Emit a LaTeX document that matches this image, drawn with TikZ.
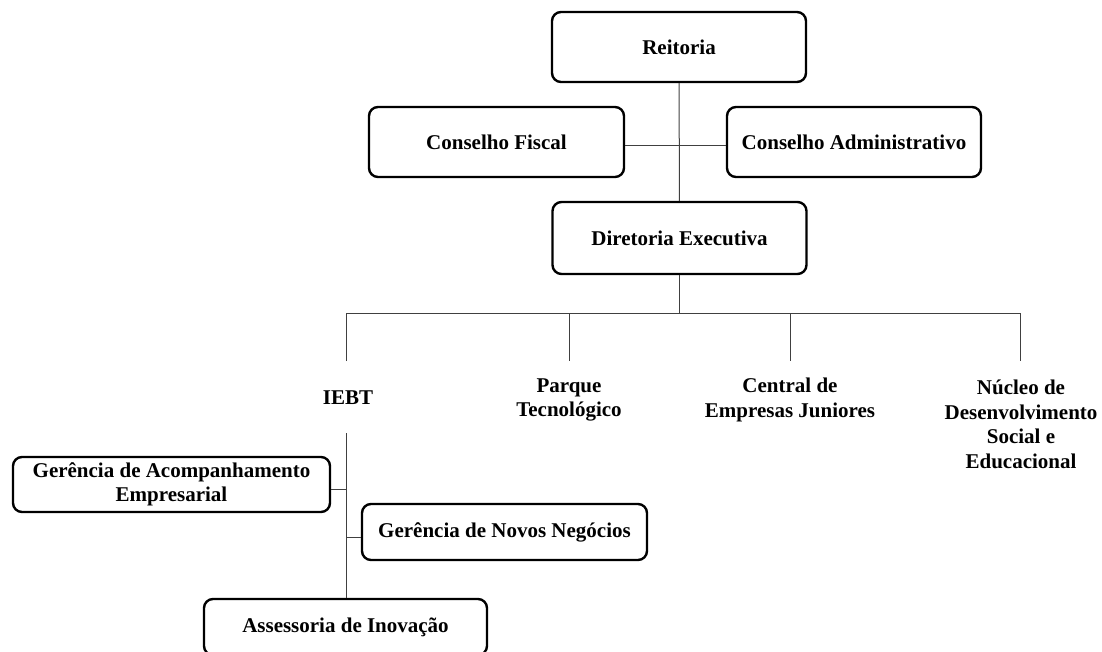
\documentclass[tikz,border=0pt]{standalone}
\usepackage{fontspec}
\setmainfont{Liberation Serif}
\begin{document}
\begin{tikzpicture}[x=1pt,y=-1pt,
  every node/.style={font=\bfseries\fontsize{21}{24.5}\selectfont, align=center, inner sep=0pt},
  orgbox/.style={draw=black, line width=2.4pt, rounded corners=9pt, rectangle},
  conn/.style={draw=black!75, line width=1pt}]
\useasboundingbox (0,0) rectangle (1102,652);
% boxes
\node[orgbox, minimum width=254pt, minimum height=70pt] (reit) at (679,47) {Reitoria};
\node[orgbox, minimum width=255pt, minimum height=70pt] (cf) at (496.5,142) {Conselho Fiscal};
\node[orgbox, minimum width=254pt, minimum height=70pt] (ca) at (854,142) {Conselho Administrativo};
\node[orgbox, minimum width=254pt, minimum height=72pt] (dir) at (679.5,238) {Diretoria Executiva};
\node[orgbox, minimum width=317pt, minimum height=55pt] (gaa) at (171.5,484.5) {Gerência de Acompanhamento\\Empresarial};
\node[orgbox, minimum width=285pt, minimum height=56pt] (gnn) at (504.5,532) {Gerência de Novos Negócios};
\node[orgbox, minimum width=283pt, minimum height=56pt] (ass) at (345.5,627) {Assessoria de Inovação};
% plain labels
\node (iebt) at (348,398) {IEBT};
\node (parque) at (569,400) {Parque\\Tecnológico};
\node (central) at (790,400) {Central de\\Empresas Juniores};
\node (nucleo) at (1021,424.5) {Núcleo de\\Desenvolvimento\\Social e\\Educacional};
% coordinates
\coordinate (bus) at (679.5,313);
\coordinate (b1) at (346,313);
\coordinate (b2) at (569,313);
\coordinate (b3) at (790,313);
\coordinate (b4) at (1020,313);
\coordinate (t1) at (346,361);
\coordinate (t2) at (569,361);
\coordinate (t3) at (790,361);
\coordinate (t4) at (1020,361);
\coordinate (ib) at (346,433);
\coordinate (j1) at (346,489);
\coordinate (j2) at (346,537);
% connectors
\draw[conn] (reit) -- (dir);
\draw[conn] ([yshift=-4pt]cf.east) -- ([yshift=-4pt]ca.west);
\draw[conn] (dir.south) -- (bus);
\draw[conn] (t1) -- (b1) -- (b4) -- (t4);
\draw[conn] (b2) -- (t2);
\draw[conn] (b3) -- (t3);
\draw[conn] (ib) -- (ib |- ass.north);
\draw[conn] (j1) -- (j1 -| gaa.east);
\draw[conn] (j2) -- (j2 -| gnn.west);
\end{tikzpicture}
\end{document}
